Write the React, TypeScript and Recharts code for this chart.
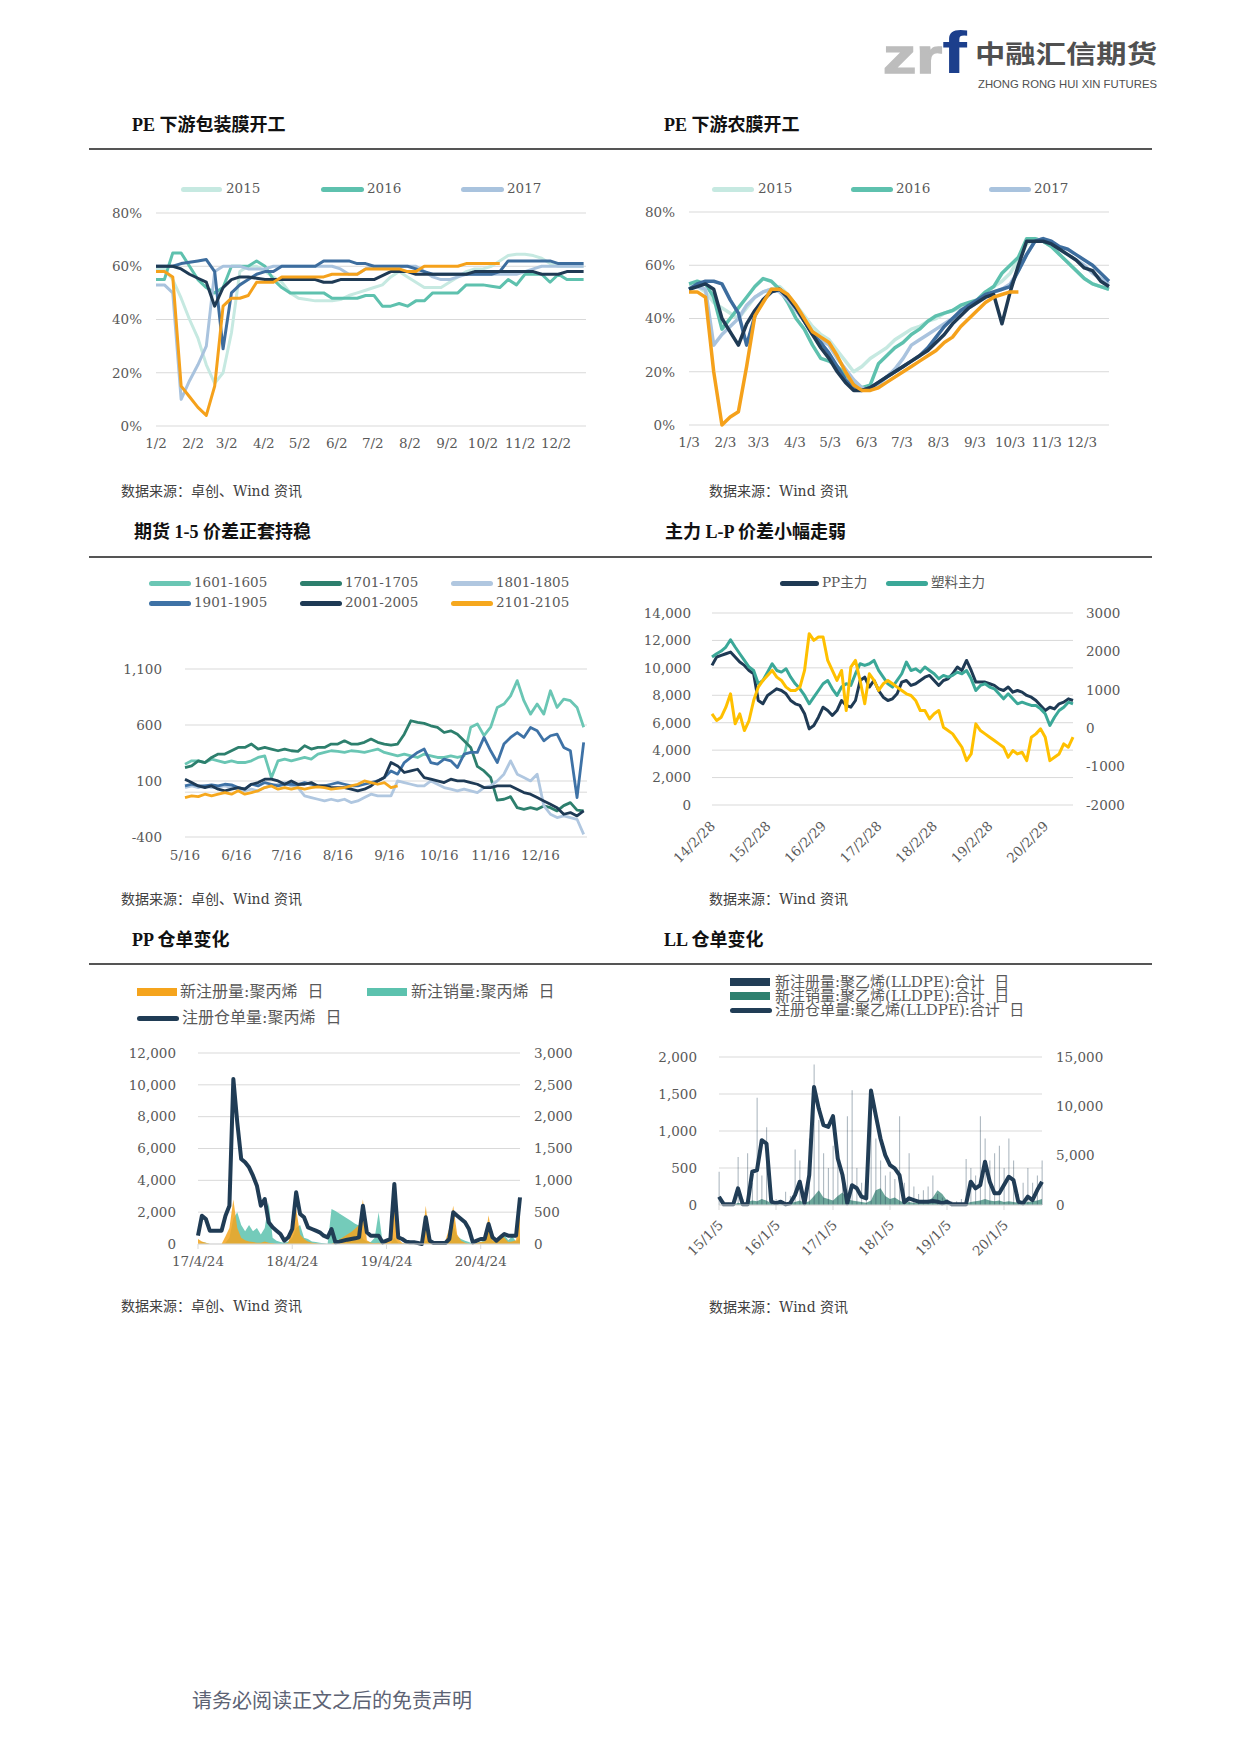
import React from 'react';
import {
  LineChart, Line, ComposedChart, Area, Bar, XAxis, YAxis, CartesianGrid, ReferenceLine,
} from 'recharts';

const SERIF = "'DejaVu Serif', 'Noto Sans CJK SC', serif";
const TITLE_FONT = "'Liberation Serif', 'Noto Sans CJK SC', serif";
const CJK = "'Noto Sans CJK SC', sans-serif";
const INK = '#595959';
const GRID = '#D9D9D9';
const TICK = { fill: INK, fontSize: 13.5, fontFamily: SERIF };

// ---------- PE 下游包装膜开工 (weekly, %) ----------
const packLabels = ['1/2', '2/2', '3/2', '4/2', '5/2', '6/2', '7/2', '8/2', '9/2', '10/2', '11/2', '12/2'];
const monthDays = [0, 31, 59, 90, 120, 151, 181, 212, 243, 273, 304, 334];
const pack2015 = [59, 59, 55, 48, 40, 33, 23, 16, 20, 35, 58, 60, 60, 58, 56, 54, 50, 48, 47.5, 47, 47, 47, 47.5, 49, 50, 51, 52, 53, 56, 58, 56, 54, 52, 52, 52, 54, 56, 58, 59, 59, 60, 62, 64, 64.5, 64.5, 64, 63, 61, 60, 60, 60, 60];
const pack2016 = [55, 55, 65, 65, 60, 55, 52, 50, 52, 60, 60, 60, 62, 60, 55, 52, 50, 50, 50, 50, 50, 48, 48, 48, 48, 49, 49, 45, 45, 46, 45, 47, 47, 50, 50, 50, 50, 53, 53, 53, 52.5, 52, 55, 53, 57, 57, 57, 54, 57, 55, 55, 55];
const pack2017 = [53, 53, 50, 10, 17, 23, 30, 58, 60, 60, 60, 59, 59, 59, 60, 60, 60, 60, 60, 60, 60, 60, 59, 57, 57, 59, 60, 60, 60, 60, 60, 60, 58, 56, 55, 55, 56, 57, 57, 57, 57, 57, 57, 57, 58, 59, 60, 60, 60, 60, 60, 60];
const pack2018 = [60, 60, 60, 61, 61.5, 62, 62.5, 58, 29, 50, 53, 55, 57, 58, 58, 60, 60, 60, 60, 60, 62, 62, 62, 62, 61, 61, 60, 60, 60, 60, 60, 59, 58, 57, 57, 57, 57, 57, 57, 57, 57, 58, 62, 62, 62, 62, 62, 62, 61, 61, 61, 61];
const pack2019 = [60, 60, 60, 59, 57, 55.5, 54, 45, 52, 55, 56, 56, 55.5, 55, 55, 55, 55, 55, 55, 55, 54, 54, 55, 55, 55, 55, 55, 56.5, 58, 58, 58, 57, 57, 57, 57, 57, 57, 57, 58, 58, 58, 58, 58, 58, 58, 58, 57, 57, 57, 58, 58, 58];
const pack2020 = [58, 58, 56, 15, 11, 7, 4, 15, 45, 48, 48, 49, 54, 54, 54, 56, 56, 56, 56, 56, 56, 57, 57, 57, 57, 59, 59, 59, 59, 59, 58, 58, 60, 60, 60, 60, 60, 61, 61, 61, 61, 61];

// ---------- PE 下游农膜开工 (weekly, %) ----------
const farmLabels = ['1/3', '2/3', '3/3', '4/3', '5/3', '6/3', '7/3', '8/3', '9/3', '10/3', '11/3', '12/3'];
const farm2015 = [52, 52, 50, 46, 44, 42, 40, 44, 48, 50, 51, 52, 49, 45, 41, 37, 34, 32, 28, 24, 20, 22, 25, 27, 29, 32, 34, 36, 37, 39, 40, 42, 43, 44, 45, 47, 49, 52, 54, 57, 62, 68, 70, 69, 67, 64, 61, 58, 55, 53, 52, 51];
const farm2016 = [53, 54, 53, 48, 36, 40, 44, 48, 52, 55, 54, 51, 46, 40, 36, 30, 25, 24, 22, 19, 16, 14, 15, 23, 26, 29, 31, 34, 36, 39, 41, 42, 43, 45, 46, 47, 50, 52, 57, 60, 63, 70, 70, 69, 67, 64, 61, 58, 55, 53, 52, 51];
const farm2017 = [51, 52, 51, 30, 34, 37, 40, 45, 48, 50, 51, 50, 47, 43, 39, 35, 32, 30, 25, 21, 17, 14, 13, 15, 18, 21, 25, 30, 32, 34, 36, 38, 40, 42, 44, 46, 48, 50, 51, 53, 58, 64, 69, 70, 68, 66, 64, 62, 60, 57, 55, 53];
const farm2018 = [51, 53, 54, 54, 53, 47, 42, 30, 41, 47, 50, 51, 48, 44, 39, 34, 31, 27, 22, 17, 14, 13, 14, 16, 18, 20, 22, 24, 26, 29, 33, 37, 40, 43, 45, 47, 49, 50, 51, 52, 58, 64, 69, 70, 69, 67, 66, 64, 62, 60, 57, 54];
const farm2019 = [51, 52, 53, 51, 40, 35, 30, 38, 43, 47, 50, 51, 48, 44, 39, 34, 29, 25, 20, 16, 13, 13, 14, 16, 18, 20, 22, 24, 26, 28, 31, 34, 38, 41, 44, 46, 48, 49, 38, 50, 60, 69, 69, 69, 68, 66, 64, 62, 59, 58, 54, 52];
const farm2020 = [50, 50, 48, 20, 0, 3, 5, 22, 41, 46, 51, 51, 49, 45, 40, 35, 33, 31, 26, 20, 15, 13, 13, 14, 16, 18, 20, 22, 24, 26, 28, 31, 33, 37, 40, 43, 46, 48, 49, 50, 50];

// ---------- 期货 1-5 价差 (every 4 days from 5/16) ----------
const spreadLabels = ['5/16', '6/16', '7/16', '8/16', '9/16', '10/16', '11/16', '12/16'];
const spreadTicks = [0, 31, 61, 92, 123, 153, 184, 214];
const s1601 = [250, 280, 280, 265, 295, 280, 265, 280, 265, 265, 280, 310, 325, 130, 280, 295, 280, 295, 310, 295, 340, 355, 370, 365, 355, 370, 365, 355, 370, 385, 355, 340, 325, 340, 325, 310, 340, 325, 310, 310, 325, 310, 325, 580, 610, 505, 580, 757, 787, 860, 996, 817, 697, 787, 697, 906, 757, 830, 817, 757, 580];
const s1701 = [220, 235, 280, 265, 310, 340, 340, 370, 400, 400, 430, 385, 400, 385, 370, 385, 370, 365, 415, 385, 400, 400, 430, 430, 459, 430, 430, 445, 474, 445, 430, 420, 430, 518, 638, 623, 614, 593, 578, 533, 548, 518, 459, 400, 230, 190, 131, -70, -63, -40, -138, -153, -138, -153, -123, -138, -167, -120, -93, -160, -167];
const s1801 = [41, 56, 41, 56, 41, 47, 56, 41, 27, 12, 27, 12, 41, 56, 71, 86, 56, 41, -33, -48, -63, -78, -63, -78, -63, -93, -78, -48, -18, -33, -33, -33, 101, 86, 71, 56, 56, 101, 71, 41, 27, 12, 27, 12, -3, 41, 56, 101, 161, 280, 161, 131, 101, 160, -120, -197, -227, -212, -227, -242, -376];
const s1901 = [56, 71, 56, 56, 65, 56, 71, 65, 41, 27, 71, 56, 86, 71, 56, 71, 71, 65, 86, 71, 56, 56, 71, 86, 71, 56, 56, 71, 86, 101, 131, 190, 161, 265, 310, 355, 385, 265, 250, 295, 280, 220, 340, 355, 355, 489, 370, 265, 430, 489, 533, 489, 578, 548, 459, 504, 518, 400, 370, -48, 445];
const s2001 = [116, 86, 56, 41, 56, 27, 12, 27, 41, 27, 71, 86, 116, 116, 101, 71, 101, 71, 71, 86, 56, 56, 41, 41, 41, 27, 12, 27, 56, 101, 131, 265, 235, 176, 190, 205, 131, 116, 101, 86, 116, 101, 101, 86, 71, 41, 41, 56, 56, 56, 27, -3, -18, -48, -78, -108, -138, -197, -182, -212, -167];
const s2101 = [-48, -33, -40, -18, -33, -18, -3, -18, 12, -18, -3, 12, 41, 56, 27, 41, 27, 41, 27, 41, 47, 41, 27, 35, 41, 56, 71, 101, 86, 71, 86, 41, 56];

// ---------- 主力 L-P (monthly from 14/2/28) ----------
const lpLabels = ['14/2/28', '15/2/28', '16/2/29', '17/2/28', '18/2/28', '19/2/28', '20/2/29'];
const lpTicks = [0, 12, 24, 36, 48, 60, 72];
const ppMain = [10180, 10790, 10910, 11030, 11150, 10790, 10420, 10180, 9810, 9570, 7620, 7380, 7990, 8230, 8470, 8350, 8110, 7620, 7380, 7260, 6650, 5550, 5800, 6400, 7130, 6890, 6530, 6890, 7620, 7260, 7130, 7620, 9080, 9320, 8600, 9080, 8350, 7860, 7620, 7740, 8110, 8960, 9080, 8720, 8840, 9080, 9320, 9450, 9080, 8720, 9080, 9200, 9570, 10060, 9810, 10540, 9810, 8960, 8960, 8960, 8840, 8720, 8470, 8350, 8600, 8230, 8350, 8230, 7990, 7860, 7620, 7260, 6890, 7130, 7010, 7380, 7500, 7740, 7620];
const plasticMain = [10790, 11030, 11225, 11520, 12050, 11520, 11030, 10540, 10060, 9810, 8840, 9080, 9690, 10300, 9810, 9690, 9930, 9320, 8840, 8470, 7990, 7380, 7860, 8350, 8840, 9080, 8470, 7990, 8600, 8840, 8720, 9570, 10300, 10180, 10300, 10540, 9810, 9320, 8840, 8600, 9080, 9570, 10420, 9810, 9930, 9690, 10060, 9810, 9570, 9200, 9450, 9320, 9450, 9690, 9570, 9810, 9200, 8350, 8720, 8840, 8600, 8470, 8110, 7740, 8110, 7740, 7380, 7500, 7380, 7260, 7260, 7010, 6650, 5800, 6400, 6890, 7130, 7500, 7380];
const lpSpread = [374, 200, 287, 548, 896, 113, 374, -61, 200, 722, 1070, 1243, 1374, 1504, 1330, 1243, 1070, 983, 983, 1070, 1504, 2461, 2287, 2374, 2374, 1765, 1504, 1243, 1504, 461, 1591, 1765, 1243, 635, 1417, 1243, 983, 1157, 1243, 1157, 1070, 983, 896, 852, 722, 461, 461, 243, 374, 461, 26, -61, -148, -322, -496, -844, -670, 113, -61, -148, -235, -322, -409, -496, -757, -583, -670, -626, -844, -235, -148, -17, -235, -844, -757, -670, -409, -496, -235];

// ---------- PP 仓单 (half-monthly from 17/4/24) ----------
const ppLabels = ['17/4/24', '18/4/24', '19/4/24', '20/4/24'];
const ppTicks = [0, 24, 48, 72];
const ppNewReg = [80, 40, 20, 0, 0, 0, 0, 120, 250, 700, 250, 100, 60, 40, 30, 20, 20, 40, 20, 10, 0, 0, 0, 20, 250, 550, 150, 80, 40, 20, 10, 0, 0, 0, 0, 30, 70, 110, 150, 190, 240, 300, 700, 60, 20, 10, 20, 0, 30, 100, 900, 80, 20, 0, 0, 0, 0, 0, 600, 60, 0, 0, 0, 50, 250, 600, 150, 50, 20, 0, 0, 20, 30, 40, 450, 60, 20, 150, 100, 30, 40, 60, 600];
const ppCancel = [0, 30, 20, 0, 0, 0, 0, 20, 100, 400, 500, 300, 200, 300, 200, 250, 150, 250, 650, 100, 50, 30, 20, 40, 100, 250, 300, 100, 80, 40, 30, 20, 10, 0, 550, 520, 480, 440, 400, 360, 320, 290, 80, 40, 30, 100, 500, 30, 10, 0, 100, 20, 10, 0, 0, 0, 0, 0, 50, 30, 0, 0, 0, 20, 150, 300, 120, 80, 50, 30, 0, 20, 30, 60, 200, 50, 40, 80, 150, 60, 120, 40, 100];
const ppWarrant = [524, 1780, 1570, 838, 838, 838, 838, 1780, 2408, 10365, 7643, 5340, 5130, 4816, 4293, 3665, 2408, 2827, 1361, 1047, 838, 628, 209, 419, 942, 3246, 1885, 1675, 1047, 942, 838, 733, 524, 419, 942, 105, 147, 209, 272, 314, 356, 419, 2408, 733, 524, 524, 524, 105, 209, 314, 3770, 419, 314, 147, 105, 105, 63, 0, 1675, 209, 63, 63, 63, 63, 314, 1990, 1780, 1570, 1361, 942, 105, 209, 314, 314, 1256, 419, 209, 419, 628, 524, 524, 524, 2932];

// ---------- LL 仓单 (monthly from 15/1/5) ----------
const llLabels = ['15/1/5', '16/1/5', '17/1/5', '18/1/5', '19/1/5', '20/1/5'];
const llTicks = [0, 12, 24, 36, 48, 60];
const llNewReg = [450, 50, 30, 40, 650, 80, 700, 300, 1450, 400, 1050, 100, 80, 60, 180, 120, 750, 600, 100, 900, 1900, 1150, 700, 500, 800, 650, 300, 1200, 1550, 500, 300, 200, 1400, 900, 600, 400, 450, 350, 1200, 300, 700, 250, 150, 200, 250, 400, 150, 100, 80, 50, 50, 80, 620, 500, 400, 1200, 900, 600, 700, 800, 500, 900, 600, 150, 300, 500, 300, 400, 600];
const llCancel = [0, 0, 0, 0, 30, 20, 40, 60, 50, 80, 60, 20, 10, 10, 20, 30, 40, 60, 30, 50, 120, 200, 100, 80, 60, 120, 170, 80, 60, 50, 40, 30, 60, 200, 225, 120, 80, 100, 60, 30, 40, 30, 30, 40, 50, 100, 200, 150, 60, 10, 0, 0, 20, 40, 50, 60, 80, 60, 50, 60, 40, 50, 40, 30, 30, 40, 50, 60, 80];
const llWarrant = [843, 67, 67, 67, 1685, 67, 67, 3370, 3540, 6570, 6230, 337, 168, 337, 67, 168, 1011, 2360, 168, 3033, 11960, 9773, 8088, 7920, 9000, 4718, 3033, 168, 2000, 1700, 843, 674, 11600, 9100, 6740, 5055, 4044, 3707, 3033, 270, 674, 505, 337, 337, 337, 404, 337, 168, 337, 67, 67, 67, 67, 2360, 1685, 2022, 4381, 2360, 1180, 1180, 2022, 2865, 2528, 337, 168, 843, 505, 1517, 2360];

const fmt = (v: number) => v.toLocaleString('en-US');
const labelOf = (ticks: number[], labels: string[]) => (v: number) => labels[ticks.indexOf(v)] ?? '';

function SlantTick(props: any) {
  const { x, y, payload, ticks, labels, dx, dy } = props;
  const ax = x + dx;
  const ay = y + dy;
  return (
    <text x={ax} y={ay} transform={`rotate(-45 ${ax} ${ay})`} textAnchor="end" fill={INK} fontSize={13.5} fontFamily={SERIF}>
      {labels[ticks.indexOf(payload.value)]}
    </text>
  );
}

function Key({ x, y, w, h, color, round, label, tx, size = 13.5 }: any) {
  return (
    <>
      <div style={{ position: 'absolute', left: x, top: y - h / 2, width: w, height: h, background: color, borderRadius: round ? h / 2 : 0 }} />
      <div style={{ position: 'absolute', left: tx, top: y, transform: 'translateY(-50%)', fontSize: size, lineHeight: 1, color: INK, fontFamily: SERIF, whiteSpace: 'pre' }}>{label}</div>
    </>
  );
}

function Title({ x, y, text }: { x: number; y: number; text: string }) {
  return (
    <div style={{ position: 'absolute', left: x, top: y, transform: 'translateY(-50%)', fontSize: 18, lineHeight: 1, fontWeight: 700, color: '#111', fontFamily: TITLE_FONT, whiteSpace: 'pre' }}>{text}</div>
  );
}

function Source({ x, y, text }: { x: number; y: number; text: string }) {
  return (
    <div style={{ position: 'absolute', left: x, top: y, transform: 'translateY(-50%)', fontSize: 14, lineHeight: 1, color: '#404040', fontFamily: SERIF, whiteSpace: 'pre' }}>{text}</div>
  );
}

const YEAR_COLORS = ['#C6E9E1', '#5EC1AE', '#A9C3DE', '#3D6D9E', '#1F3A54', '#F5A11B'];

function PackChart() {
  const rows = pack2015.map((_, i) => ({
    d: i * 7, a: pack2015[i], b: pack2016[i], c: pack2017[i], e: pack2018[i], f: pack2019[i], g: pack2020[i] ?? null,
  }));
  return (
    <div style={{ position: 'absolute', left: 90, top: 200 }}>
      <LineChart width={510} height={270} data={rows} margin={{ top: 13, right: 14, left: 0, bottom: 0 }}>
        <CartesianGrid vertical={false} stroke={GRID} />
        <XAxis dataKey="d" type="number" domain={[0, 359]} ticks={monthDays} interval={0} tickFormatter={labelOf(monthDays, packLabels)} axisLine={false} tickLine={false} tick={TICK} height={44} tickMargin={6} />
        <YAxis domain={[0, 80]} ticks={[0, 20, 40, 60, 80]} tickFormatter={(v) => `${v}%`} width={66} axisLine={false} tickLine={false} tick={TICK} tickMargin={8} />
        {['a', 'b', 'c', 'e', 'f', 'g'].map((k, i) => (
          <Line key={k} dataKey={k} stroke={YEAR_COLORS[i]} strokeWidth={3} dot={false} isAnimationActive={false} strokeLinejoin="round" />
        ))}
      </LineChart>
    </div>
  );
}

function FarmChart() {
  const rows = farm2015.map((_, i) => ({
    d: i * 7, a: farm2015[i], b: farm2016[i], c: farm2017[i], e: farm2018[i], f: farm2019[i], g: farm2020[i] ?? null,
  }));
  return (
    <div style={{ position: 'absolute', left: 620, top: 200 }}>
      <LineChart width={500} height={270} data={rows} margin={{ top: 12, right: 11, left: 0, bottom: 0 }}>
        <CartesianGrid vertical={false} stroke={GRID} />
        <XAxis dataKey="d" type="number" domain={[0, 357]} ticks={monthDays} interval={0} tickFormatter={labelOf(monthDays, farmLabels)} axisLine={false} tickLine={false} tick={TICK} height={45} tickMargin={6} />
        <YAxis domain={[0, 80]} ticks={[0, 20, 40, 60, 80]} tickFormatter={(v) => `${v}%`} width={69} axisLine={false} tickLine={false} tick={TICK} tickMargin={8} />
        {['a', 'b', 'c', 'e', 'f', 'g'].map((k, i) => (
          <Line key={k} dataKey={k} stroke={YEAR_COLORS[i]} strokeWidth={3.5} dot={false} isAnimationActive={false} strokeLinejoin="round" />
        ))}
      </LineChart>
    </div>
  );
}

const SPREAD_COLORS = ['#6AC6B4', '#2D7F6D', '#B0C7E0', '#3E72A6', '#1E3A55', '#F6A81E'];

function SpreadChart() {
  const rows = s1601.map((_, i) => ({
    d: i * 4, a: s1601[i], b: s1701[i], c: s1801[i], e: s1901[i], f: s2001[i], g: s2101[i] ?? null,
  }));
  return (
    <div style={{ position: 'absolute', left: 90, top: 650 }}>
      <LineChart width={510} height={230} data={rows} margin={{ top: 19, right: 13, left: 0, bottom: 0 }}>
        <CartesianGrid vertical={false} stroke={GRID} />
        <ReferenceLine y={0} stroke={GRID} />
        <XAxis dataKey="d" type="number" domain={[0, 242]} ticks={spreadTicks} interval={0} tickFormatter={labelOf(spreadTicks, spreadLabels)} axisLine={false} tickLine={false} tick={TICK} height={43} tickMargin={7} />
        <YAxis domain={[-400, 1100]} ticks={[-400, 100, 600, 1100]} tickFormatter={fmt} width={95} axisLine={false} tickLine={false} tick={TICK} tickMargin={17} />
        {['a', 'b', 'c', 'e', 'f', 'g'].map((k, i) => (
          <Line key={k} dataKey={k} stroke={SPREAD_COLORS[i]} strokeWidth={2.8} dot={false} isAnimationActive={false} strokeLinejoin="round" />
        ))}
      </LineChart>
    </div>
  );
}

function LpChart() {
  const rows = ppMain.map((_, i) => ({ m: i, pp: ppMain[i], pe: plasticMain[i], sp: lpSpread[i] }));
  return (
    <div style={{ position: 'absolute', left: 620, top: 600 }}>
      <ComposedChart width={520} height={290} data={rows} margin={{ top: 13, right: 0, left: 0, bottom: 0 }}>
        <CartesianGrid vertical={false} stroke={GRID} />
        <XAxis dataKey="m" type="number" domain={[0, 78]} ticks={lpTicks} interval={0} axisLine={false} tickLine={false} height={85} tickSize={0} tickMargin={0}
          tick={(p: any) => <SlantTick {...p} ticks={lpTicks} labels={lpLabels} dx={4} dy={22} />} />
        <YAxis domain={[0, 14000]} ticks={[0, 2000, 4000, 6000, 8000, 10000, 12000, 14000]} tickFormatter={fmt} width={92} axisLine={false} tickLine={false} tick={TICK} tickMargin={15} />
        <YAxis yAxisId="r" orientation="right" domain={[-2000, 3000]} ticks={[-2000, -1000, 0, 1000, 2000, 3000]} width={67} axisLine={false} tickLine={false} tick={TICK} tickMargin={7} />
        <Line dataKey="pp" stroke="#1F3A54" strokeWidth={3} dot={false} isAnimationActive={false} strokeLinejoin="round" />
        <Line dataKey="pe" stroke="#3BA898" strokeWidth={3} dot={false} isAnimationActive={false} strokeLinejoin="round" />
        <Line dataKey="sp" yAxisId="r" stroke="#FFC000" strokeWidth={3} dot={false} isAnimationActive={false} strokeLinejoin="round" />
      </ComposedChart>
    </div>
  );
}

function PpChart() {
  const rows = ppWarrant.map((_, i) => ({ h: i, reg: ppNewReg[i], cancel: ppCancel[i], stock: ppWarrant[i] }));
  return (
    <div style={{ position: 'absolute', left: 90, top: 1040 }}>
      <ComposedChart width={510} height={240} data={rows} margin={{ top: 13, right: 0, left: 0, bottom: 0 }}>
        <CartesianGrid vertical={false} stroke={GRID} />
        <XAxis dataKey="h" type="number" domain={[0, 82]} ticks={ppTicks} interval={0} tickFormatter={labelOf(ppTicks, ppLabels)} axisLine={{ stroke: GRID }} tickLine={{ stroke: GRID }} tickSize={5} tick={TICK} height={36} tickMargin={7} />
        <YAxis domain={[0, 12000]} ticks={[0, 2000, 4000, 6000, 8000, 10000, 12000]} tickFormatter={fmt} width={108} axisLine={false} tickLine={false} tick={TICK} tickMargin={16} />
        <YAxis yAxisId="r" orientation="right" domain={[0, 3000]} ticks={[0, 500, 1000, 1500, 2000, 2500, 3000]} tickFormatter={fmt} width={80} axisLine={false} tickLine={false} tick={TICK} tickMargin={8} />
        <Area dataKey="cancel" yAxisId="r" type="linear" stroke="none" fill="#5CC2AE" fillOpacity={0.85} isAnimationActive={false} />
        <Area dataKey="reg" yAxisId="r" type="linear" stroke="none" fill="#F5A41D" fillOpacity={0.85} isAnimationActive={false} />
        <Line dataKey="stock" stroke="#203C55" strokeWidth={4} dot={false} isAnimationActive={false} strokeLinejoin="round" />
      </ComposedChart>
    </div>
  );
}

function LlChart() {
  const rows = llWarrant.map((_, i) => ({ m: i, reg: llNewReg[i], cancel: llCancel[i], stock: llWarrant[i] }));
  return (
    <div style={{ position: 'absolute', left: 620, top: 1040 }}>
      <ComposedChart width={520} height={260} data={rows} margin={{ top: 17, right: 0, left: 0, bottom: 0 }}>
        <CartesianGrid vertical={false} stroke={GRID} />
        <XAxis dataKey="m" type="number" domain={[0, 68]} ticks={llTicks} interval={0} axisLine={{ stroke: GRID }} tickLine={{ stroke: GRID }} height={95} tickSize={5} tickMargin={0}
          tick={(p: any) => <SlantTick {...p} ticks={llTicks} labels={llLabels} dx={5} dy={16} />} />
        <YAxis domain={[0, 2000]} ticks={[0, 500, 1000, 1500, 2000]} tickFormatter={fmt} width={99} axisLine={false} tickLine={false} tick={TICK} tickMargin={16} />
        <YAxis yAxisId="r" orientation="right" domain={[0, 15000]} ticks={[0, 5000, 10000, 15000]} tickFormatter={fmt} width={98} axisLine={false} tickLine={false} tick={TICK} tickMargin={8} />
        <Bar dataKey="reg" barSize={1} fill="#213D56" fillOpacity={0.4} isAnimationActive={false} />
        <Area dataKey="cancel" type="linear" stroke="none" fill="#2E806F" fillOpacity={0.7} isAnimationActive={false} />
        <Line dataKey="stock" yAxisId="r" stroke="#213D56" strokeWidth={4} dot={false} isAnimationActive={false} strokeLinejoin="round" />
      </ComposedChart>
    </div>
  );
}

function Logo() {
  return (
    <svg width={300} height={80} style={{ position: 'absolute', left: 870, top: 20 }}>
      <text x={13} y={53} fontSize={48} fontWeight={700} fill="#BDBDBD" stroke="#BDBDBD" strokeWidth={1.5} fontFamily="'Liberation Sans', sans-serif" textLength={59} lengthAdjust="spacingAndGlyphs">zr</text>
      <text x={72} y={53} fontSize={60} fontWeight={700} fill="#1C3F8C" fontFamily="'Liberation Sans', sans-serif" textLength={25} lengthAdjust="spacingAndGlyphs">f</text>
      <text x={105} y={43} fontSize={25} fontWeight={700} fill="#505050" fontFamily={CJK} textLength={182} lengthAdjust="spacingAndGlyphs">中融汇信期货</text>
      <text x={108} y={68} fontSize={11} fill="#505050" fontFamily="'Liberation Sans', sans-serif" textLength={179} lengthAdjust="spacingAndGlyphs">ZHONG RONG HUI XIN FUTURES</text>
    </svg>
  );
}

const Rule = ({ y }: { y: number }) => (
  <div style={{ position: 'absolute', left: 89, top: y - 1, width: 1063, height: 1.5, background: '#555' }} />
);

export default function App() {
  return (
    <div style={{ position: 'absolute', left: 0, top: 0, width: 1240, height: 1753, background: '#fff', overflow: 'hidden' }}>
      <Logo />

      <Title x={132} y={125} text="PE 下游包装膜开工" />
      <Title x={664} y={125} text="PE 下游农膜开工" />
      <Rule y={149} />
      <Key x={181} y={189} w={41} h={5} round color={YEAR_COLORS[0]} tx={226} label="2015" />
      <Key x={321} y={189} w={43} h={5} round color={YEAR_COLORS[1]} tx={367} label="2016" />
      <Key x={461} y={189} w={43} h={5} round color={YEAR_COLORS[2]} tx={507} label="2017" />
      <Key x={712} y={189} w={42} h={5} round color={YEAR_COLORS[0]} tx={758} label="2015" />
      <Key x={851} y={189} w={42} h={5} round color={YEAR_COLORS[1]} tx={896} label="2016" />
      <Key x={989} y={189} w={42} h={5} round color={YEAR_COLORS[2]} tx={1034} label="2017" />
      <PackChart />
      <FarmChart />
      <Source x={121} y={491} text="数据来源：卓创、Wind 资讯" />
      <Source x={709} y={491} text="数据来源：Wind 资讯" />

      <Title x={134} y={532} text="期货 1-5 价差正套持稳" />
      <Title x={665} y={532} text="主力 L-P 价差小幅走弱" />
      <Rule y={557} />
      <Key x={149} y={583} w={42} h={5} round color={SPREAD_COLORS[0]} tx={194} label="1601-1605" />
      <Key x={300} y={583} w={42} h={5} round color={SPREAD_COLORS[1]} tx={345} label="1701-1705" />
      <Key x={451} y={583} w={42} h={5} round color={SPREAD_COLORS[2]} tx={496} label="1801-1805" />
      <Key x={149} y={603} w={42} h={5} round color={SPREAD_COLORS[3]} tx={194} label="1901-1905" />
      <Key x={300} y={603} w={42} h={5} round color={SPREAD_COLORS[4]} tx={345} label="2001-2005" />
      <Key x={451} y={603} w={42} h={5} round color={SPREAD_COLORS[5]} tx={496} label="2101-2105" />
      <Key x={780} y={583} w={39} h={5} round color="#1F3A54" tx={822} label="PP主力" />
      <Key x={886} y={583} w={42} h={5} round color="#3BA898" tx={931} label="塑料主力" />
      <SpreadChart />
      <LpChart />
      <Source x={121} y={899} text="数据来源：卓创、Wind 资讯" />
      <Source x={709} y={899} text="数据来源：Wind 资讯" />

      <Title x={132} y={940} text="PP 仓单变化" />
      <Title x={664} y={940} text="LL 仓单变化" />
      <Rule y={964} />
      <Key x={137} y={992} w={40} h={8} color="#F5A41D" tx={180} size={16} label="新注册量:聚丙烯  日" />
      <Key x={367} y={992} w={40} h={8} color="#5CC2AE" tx={411} size={16} label="新注销量:聚丙烯  日" />
      <Key x={137} y={1018} w={42} h={5} round color="#203C55" tx={182} size={16} label="注册仓单量:聚丙烯  日" />
      <Key x={730} y={982} w={40} h={8} color="#213D56" tx={775} size={15} label="新注册量:聚乙烯(LLDPE):合计  日" />
      <Key x={730} y={996} w={40} h={8} color="#2E806F" tx={775} size={15} label="新注销量:聚乙烯(LLDPE):合计  日" />
      <Key x={730} y={1010} w={42} h={5} round color="#213D56" tx={775} size={15} label="注册仓单量:聚乙烯(LLDPE):合计  日" />
      <PpChart />
      <LlChart />
      <Source x={121} y={1306} text="数据来源：卓创、Wind 资讯" />
      <Source x={709} y={1307} text="数据来源：Wind 资讯" />

      <div style={{ position: 'absolute', left: 192, top: 1700, transform: 'translateY(-50%)', fontSize: 20, lineHeight: 1, color: '#5D6374', fontFamily: CJK, whiteSpace: 'pre' }}>
        请务必阅读正文之后的免责声明
      </div>
    </div>
  );
}
